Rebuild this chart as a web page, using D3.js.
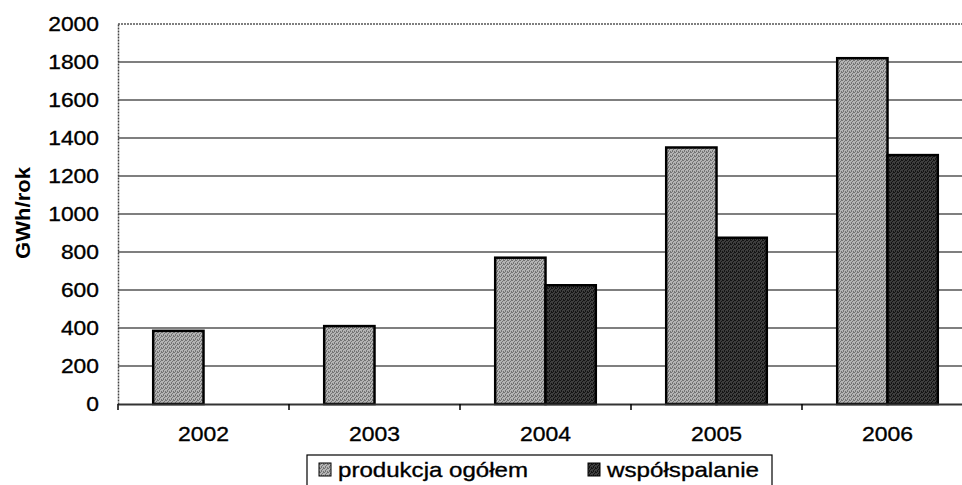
<!DOCTYPE html>
<html>
<head>
<meta charset="utf-8">
<script src="https://cdn.jsdelivr.net/npm/d3@7"></script>
<style>
  body { margin: 0; background: #fff; }
  svg { display: block; font-family: Arial, "Liberation Sans", sans-serif; }
</style>
</head>
<body>
<svg id="canvas"></svg>
<script>
const years = ['2002', '2003', '2004', '2005', '2006'];
const seriesNames = ['produkcja ogółem', 'współspalanie'];
const produkcja = [385, 410, 770, 1350, 1820];
const wspolspalanie = [0, 0, 625, 875, 1310];
const yTicks = [0, 200, 400, 600, 800, 1000, 1200, 1400, 1600, 1800, 2000];

let width = 962;
let height = 485;

let canvas = d3.select('#canvas')
    .attr('width', width)
    .attr('height', height);

// speckled fills, like the scanned print
const defs = canvas.append('defs');
const makePattern = (id, base, dot, dots) => {
    let p = defs.append('pattern')
        .attr('id', id)
        .attr('width', 4)
        .attr('height', 4)
        .attr('patternUnits', 'userSpaceOnUse');
    p.append('rect').attr('width', 4).attr('height', 4).attr('fill', base);
    dots.forEach(d => {
        p.append('rect').attr('x', d[0]).attr('y', d[1]).attr('width', 1).attr('height', 1).attr('fill', dot);
    });
};
const speckle = [[0, 0], [2, 1], [1, 2], [3, 3], [3, 0], [1, 3]];
makePattern('light', '#b4b4b4', '#747474', speckle);
makePattern('dark', '#3e3e3e', '#141414', speckle);
const fills = ['url(#light)', 'url(#dark)'];

const xScale = d3.scaleBand()
    .domain(years)
    .range([118, 973])
    .padding(0);

const x1 = d3.scaleBand()
    .domain(seriesNames)
    .range([0, xScale.bandwidth()])
    .paddingInner(0)
    .paddingOuter(0.7);

const yScale = d3.scaleLinear()
    .domain([0, 2000])
    .range([404, 24]);

// gridlines
canvas.append('g')
    .selectAll('line')
    .data(yTicks.filter(d => d > 0 && d < 2000))
    .enter()
    .append('line')
    .attr('x1', 118)
    .attr('x2', width)
    .attr('y1', d => yScale(d))
    .attr('y2', d => yScale(d))
    .attr('stroke', '#000')
    .attr('stroke-width', 1.2);

// top frame line (dotted gray from the scan)
canvas.append('line')
    .attr('x1', 118).attr('x2', width)
    .attr('y1', yScale(2000)).attr('y2', yScale(2000))
    .attr('stroke', '#555').attr('stroke-width', 1.5)
    .attr('stroke-dasharray', '2,1');

// bars
const rows = years.map((y, i) => ({ year: y, values: [produkcja[i], wspolspalanie[i]] }));

canvas.append('g')
    .selectAll('g')
    .data(rows)
    .enter()
    .append('g')
    .attr('transform', d => 'translate(' + xScale(d.year) + ',0)')
    .selectAll('rect')
    .data(d => d.values.map((v, k) => ({ v: v, k: k })).filter(e => e.v > 0))
    .enter()
    .append('rect')
    .attr('x', d => x1(seriesNames[d.k]))
    .attr('y', d => yScale(d.v))
    .attr('width', x1.bandwidth())
    .attr('height', d => yScale(0) - yScale(d.v))
    .attr('fill', d => fills[d.k])
    .attr('stroke', '#000')
    .attr('stroke-width', 2.5);

// axes
const styleText = sel => sel
    .attr('font-size', 21)
    .attr('fill', '#000')
    .attr('stroke', '#000')
    .attr('stroke-width', 0.35)
    .attr('lengthAdjust', 'spacingAndGlyphs');

let yAxis = d3.axisLeft(yScale)
    .tickValues(yTicks)
    .tickSize(0)
    .tickPadding(19)
    .tickFormat(d3.format('d'));

canvas.append('g')
    .attr('transform', 'translate(118,0)')
    .call(yAxis)
    .call(g => g.select('.domain').attr('stroke', '#444').attr('stroke-width', 1.5).attr('stroke-dasharray', '2,1'))
    .call(g => g.selectAll('text').call(styleText).attr('textLength', function () { return this.textContent.length * 12.7; }));

let xAxis = d3.axisBottom(xScale)
    .tickSize(0)
    .tickPadding(22);

canvas.append('g')
    .attr('transform', 'translate(0,' + yScale(0) + ')')
    .call(xAxis)
    .call(g => g.select('.domain').attr('stroke', '#333').attr('stroke-width', 2))
    .call(g => g.selectAll('text').call(styleText).attr('textLength', 51));

// category boundary ticks
canvas.append('g')
    .selectAll('line')
    .data(years)
    .enter()
    .append('line')
    .attr('x1', d => xScale(d))
    .attr('x2', d => xScale(d))
    .attr('y1', yScale(0))
    .attr('y2', yScale(0) + 6)
    .attr('stroke', '#000')
    .attr('stroke-width', 1.5);

// y title
canvas.append('text')
    .attr('transform', 'translate(30,' + 213 + ') rotate(-90)')
    .attr('text-anchor', 'middle')
    .attr('font-size', 20)
    .attr('font-weight', 'bold')
    .attr('textLength', 92)
    .attr('lengthAdjust', 'spacingAndGlyphs')
    .text('GWh/rok');

// legend
const legend = canvas.append('g');
legend.append('rect')
    .attr('x', 307)
    .attr('y', 455)
    .attr('width', 465)
    .attr('height', 40)
    .attr('fill', '#fff')
    .attr('stroke', '#000')
    .attr('stroke-width', 1.2);

const legendX = [319, 588];
const legendLen = [190, 152];
seriesNames.forEach((name, i) => {
    legend.append('rect')
        .attr('x', legendX[i])
        .attr('y', 463)
        .attr('width', 12)
        .attr('height', 13)
        .attr('fill', fills[i])
        .attr('stroke', '#000')
        .attr('stroke-width', 1);
    legend.append('text')
        .attr('x', legendX[i] + 19)
        .attr('y', 477)
        .attr('font-size', 21)
        .attr('stroke', '#000')
        .attr('stroke-width', 0.35)
        .attr('textLength', legendLen[i])
        .attr('lengthAdjust', 'spacingAndGlyphs')
        .text(name);
});
</script>
</body>
</html>
